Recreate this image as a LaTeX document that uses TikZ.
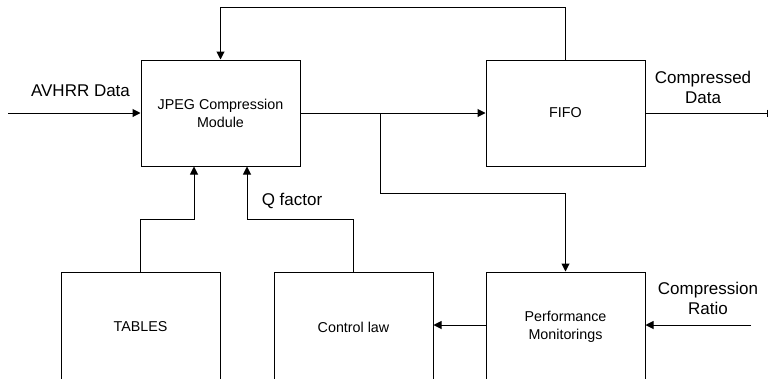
\documentclass[tikz,border=0pt]{standalone}
\usepackage{fontspec}
\setmainfont{Liberation Sans}
\usepackage{tikz}
\usetikzlibrary{arrows.meta,positioning,calc}

\tikzset{
  block/.style={draw,line width=1pt,minimum width=159pt,minimum height=106pt,
    align=center,font=\fontsize{14.3}{18}\selectfont,inner sep=0pt},
  lbl/.style={align=center,font=\fontsize{17}{20}\selectfont,inner sep=0pt},
  arr/.style={line width=1pt,-{Triangle[length=8pt,width=8pt]}},
  wire/.style={line width=1pt}
}

\begin{document}
\begin{tikzpicture}[x=1pt,y=-1pt]
\useasboundingbox (0,0) rectangle (770,378);
% Blocks
\node[block] (jpeg) at (220.5,113) {JPEG Compression\\Module};
\node[block] (fifo) at (565.5,113) {FIFO};
\node[block,minimum height=110pt] (tables) at (140.5,327) {TABLES};
\node[block,minimum height=110pt] (control) at (353.5,327) {Control law};
\node[block,minimum height=110pt] (perf) at (565.5,327) {Performance\\Monitorings};

% Free ends and corners
\coordinate (in) at (8,113);
\coordinate (out) at (768,113);
\coordinate (top) at (220.5,7);
\coordinate (split) at (380,113);
\coordinate (down) at (565.5,193);
\coordinate (tq) at (194,219);
\coordinate (cq) at (247,219);
\coordinate (cr) at (751,325);

% Main path
\draw[arr] (in) -- (jpeg.west);
\draw[arr] (jpeg.east) -- (fifo.west);
\draw[wire,-{Bar[width=7pt]}] (fifo.east) -- (out);
\draw[arr] (fifo.north) |- (top) -- (jpeg.north);
\draw[arr] (split) |- (down) -- (perf.north);

% Inputs from below
\draw[arr] (tables.north) |- (tq) -- (tq |- jpeg.south);
\draw[arr] (control.north) |- (cq) -- (cq |- jpeg.south);
\draw[arr] (perf.west |- cr) -- (control.east |- cr);
\draw[arr] (cr) -- (perf.east |- cr);

% Labels
\node[lbl] (avhrr) at (80.5,91) {AVHRR Data};
\node[lbl] (qf) at (292,201) {Q factor};
\node[lbl] (cd) at (703,87) {Compressed\\Data};
\node[lbl] (ratio) at (708,298.5) {Compression\\Ratio};
\end{tikzpicture}
\end{document}
